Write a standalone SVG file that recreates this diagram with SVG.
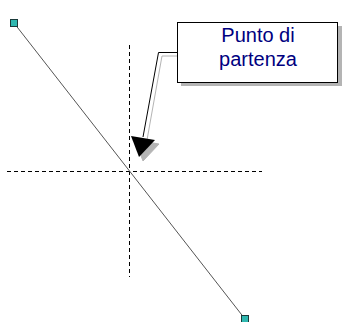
<svg xmlns="http://www.w3.org/2000/svg" width="343" height="322" viewBox="0 0 343 322">
<style>
.dash{stroke:#000;stroke-width:1;stroke-dasharray:4 3;fill:none}
.shadow{fill:#b4b4b4;stroke:#b4b4b4}
.handle{fill:#2fb8b0;stroke:#1a3a3a;stroke-width:1}
.lbl{font-family:"Liberation Sans",Arial,sans-serif;font-size:20px;fill:#000080;text-anchor:middle}
</style>
<rect width="343" height="322" fill="#fff"/>
<g id="axes">
<line class="dash" x1="7" y1="171.5" x2="262" y2="171.5"/>
<line class="dash" x1="129.5" y1="45" x2="129.5" y2="277"/>
</g>
<g id="segment">
<line x1="14" y1="23" x2="245" y2="319" stroke="#555" stroke-width="1"/>
<rect class="handle" x="10.5" y="19.5" width="7" height="7"/>
<rect class="handle" x="241.5" y="315.5" width="7" height="7"/>
</g>
<g id="connectors">
<polyline points="181,56 162,56 147,140" fill="none" stroke="#b4b4b4" stroke-width="1"/>
<polygon class="shadow" points="135,140 159,144 143,161"/>
<polyline points="177,52.5 158.5,52.5 143,137" fill="none" stroke="#000" stroke-width="1"/>
<polygon points="131,136 155,140 139,157" fill="#000"/>
</g>
<g id="callout">
<rect x="181" y="26" width="161" height="60" fill="#b4b4b4"/>
<rect x="177.5" y="22.5" width="160" height="60" fill="#fff" stroke="#000" stroke-width="1"/>
<text class="lbl" x="258" y="42">Punto di</text>
<text class="lbl" x="258" y="66">partenza</text>
</g>
</svg>
